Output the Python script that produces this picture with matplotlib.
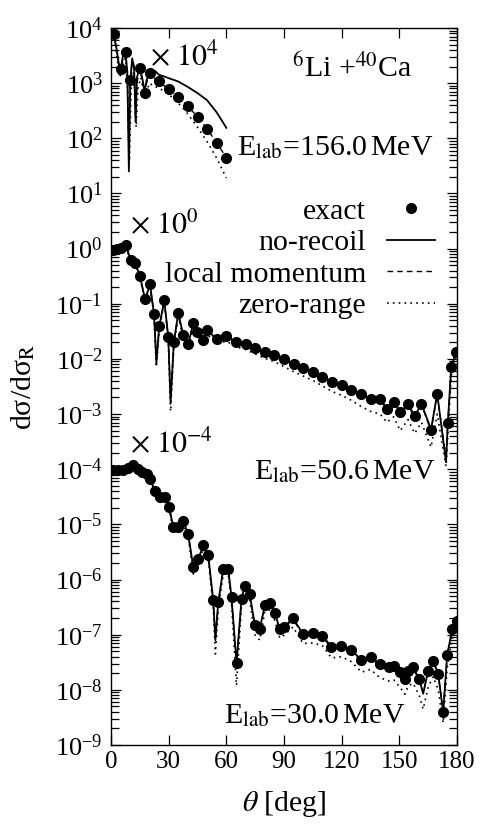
# %% load library
import numpy as np
import matplotlib
matplotlib.use("Agg")
import matplotlib.pyplot as plt
import matplotlib.ticker as ticker
from matplotlib.lines import Line2D

# %% style
plt.rcParams['font.family'] = ['Liberation Serif', 'DejaVu Serif']
plt.rcParams['mathtext.fontset'] = 'stix'
plt.rcParams['axes.linewidth'] = 1.0

# %% data  (theta [deg], log10 dsigma/dsigma_R)
# 156.0 MeV, drawn x 1e4
exact_156 = [(1.5, -0.10), (5.0, -0.75), (7.8, -0.43), (9.9, -0.94), (15.0, -0.73),
             (17.7, -1.18), (20.3, -0.82), (25, -0.97), (30, -1.11), (35, -1.25),
             (40, -1.42), (45, -1.61), (50, -1.83), (55, -2.08), (60, -2.35)]
norecoil_156 = [(0, -0.05), (1.5, -0.12), (3, -0.40), (4.5, -0.75), (5.5, -0.65),
                (6.5, -0.45), (7.5, -0.42), (8.5, -0.80), (9.3, -2.60), (10, -1.00),
                (11, -0.55), (12, -0.70), (12.8, -1.70), (13.5, -0.90), (15, -0.70),
                (16.5, -0.95), (17.5, -1.15), (18.5, -0.95), (20, -0.80), (21.5, -0.85),
                (23, -0.78), (25, -0.85), (27, -0.87), (30, -0.91), (35, -0.97),
                (40, -1.07), (45, -1.18), (50, -1.31), (55, -1.53), (60, -1.81)]
localmom_156 = [(0, -0.05), (1.5, -0.12), (3, -0.40), (4.5, -0.78), (5.5, -0.70),
                (6.5, -0.50), (7.5, -0.43), (8.5, -0.80), (9.3, -2.40), (10, -1.00),
                (11, -0.60), (12, -0.75), (12.8, -1.70), (13.5, -1.00), (15, -0.73),
                (16.5, -1.00), (17.5, -1.18), (18.5, -1.00), (20, -0.82), (21.5, -0.90),
                (23, -0.92), (25, -0.97), (27, -1.03), (30, -1.11), (35, -1.25),
                (40, -1.42), (45, -1.61), (50, -1.83), (55, -2.08), (60, -2.35)]
zerorange_156 = [(0, -0.10), (1.5, -0.20), (3, -0.50), (4.5, -0.90), (5.5, -0.80),
                 (6.5, -0.60), (7.5, -0.55), (8.5, -1.00), (9.6, -2.40), (10.5, -1.10),
                 (11.5, -0.80), (12.3, -1.00), (13.1, -1.80), (14, -1.10), (15.5, -0.90),
                 (17, -1.15), (18, -1.30), (19, -1.10), (20, -1.00), (22, -1.05),
                 (25, -1.09), (30, -1.20), (35, -1.36), (40, -1.56), (45, -1.80),
                 (50, -2.06), (55, -2.36), (60, -2.72)]

# 50.6 MeV, drawn x 1
exact_50 = [(1.2, -0.03), (2.9, 0.00), (5.0, 0.02), (7.8, 0.06), (10.2, -0.21),
            (12.5, -0.26), (15.1, -0.50), (17.7, -0.92), (20.3, -0.65), (22.4, -1.19),
            (25.1, -1.41), (27.7, -0.94), (29.8, -1.60), (32.7, -1.69), (35, -1.17),
            (37.6, -1.57), (40.2, -1.73), (42.8, -1.35), (44.9, -1.51), (47.7, -1.66),
            (50.1, -1.48), (55, -1.64), (60, -1.59), (65, -1.69), (70, -1.73),
            (75, -1.80), (80, -1.87), (85, -1.93), (90, -2.01), (95, -2.10),
            (100, -2.17), (105, -2.24), (110, -2.33), (115, -2.42), (120, -2.48),
            (125, -2.56), (130, -2.63), (135, -2.72), (140, -2.72), (143.5, -2.90),
            (147, -2.78), (150.5, -2.96), (154.5, -2.82), (158, -3.04), (161.5, -2.81),
            (166.5, -3.28), (169.7, -2.63), (175.2, -3.17), (177, -2.15), (179.5, -1.87)]
norecoil_50 = [(0, -0.03), (1.2, -0.03), (2.9, 0.00), (5.0, 0.02), (7.8, 0.06),
               (10.2, -0.21), (12.5, -0.26), (15.1, -0.50), (17.7, -0.92), (20.3, -0.65),
               (22.4, -1.19), (23.6, -2.08), (25.1, -1.41), (27.7, -0.94), (29.8, -1.60),
               (31.0, -2.80), (32.7, -1.69), (35, -1.17), (37.6, -1.57), (40.2, -1.73),
               (42.8, -1.35), (44.9, -1.51), (47.7, -1.66), (50.1, -1.48), (55, -1.64),
               (60, -1.59), (65, -1.69), (70, -1.73), (75, -1.80), (80, -1.87),
               (85, -1.93), (90, -2.01), (95, -2.10), (100, -2.17), (105, -2.24),
               (110, -2.33), (115, -2.42), (120, -2.48), (125, -2.56), (130, -2.63),
               (135, -2.72), (140, -2.72), (143.5, -2.90), (147, -2.78), (150.5, -2.96),
               (154.5, -2.82), (158, -3.04), (161.5, -2.81), (166.5, -3.28), (169.7, -2.63),
               (174.3, -3.87), (175.2, -3.17), (177, -2.15), (179.5, -1.87), (180, -1.82)]
localmom_50 = [(0, -0.03), (1.2, -0.03), (2.9, 0.00), (5.0, 0.02), (7.8, 0.06),
               (10.2, -0.21), (12.5, -0.27), (15.1, -0.51), (17.7, -0.93), (20.3, -0.66),
               (22.4, -1.20), (23.6, -2.00), (25.1, -1.42), (27.7, -0.95), (29.8, -1.61),
               (31.0, -2.70), (32.7, -1.70), (35, -1.18), (37.6, -1.58), (40.2, -1.74),
               (42.8, -1.36), (44.9, -1.52), (47.7, -1.67), (50.1, -1.49), (55, -1.65),
               (60, -1.60), (65, -1.70), (70, -1.74), (75, -1.81), (80, -1.88),
               (85, -1.94), (90, -2.02), (95, -2.11), (100, -2.18), (105, -2.25),
               (110, -2.34), (115, -2.43), (120, -2.49), (125, -2.57), (130, -2.64),
               (135, -2.73), (140, -2.74), (143.5, -2.92), (147, -2.80), (150.5, -2.98),
               (154.5, -2.84), (158, -3.06), (161.5, -2.83), (166.5, -3.30), (169.7, -2.65),
               (174.3, -3.80), (175.2, -3.19), (177, -2.17), (179.5, -1.88), (180, -1.83)]
zerorange_50 = [(0, -0.04), (1.2, -0.04), (2.9, -0.01), (5.0, 0.01), (7.8, 0.05),
                (10.2, -0.23), (12.5, -0.28), (15.1, -0.53), (17.7, -0.95), (20.3, -0.68),
                (22.4, -1.23), (23.6, -2.15), (25.1, -1.45), (27.7, -0.98), (29.8, -1.66),
                (31.0, -2.95), (32.7, -1.76), (35, -1.22), (37.6, -1.63), (40.2, -1.80),
                (42.8, -1.42), (44.9, -1.58), (47.7, -1.74), (50.1, -1.56), (55, -1.72),
                (60, -1.68), (65, -1.78), (70, -1.83), (75, -1.91), (80, -1.99),
                (85, -2.05), (90, -2.14), (95, -2.23), (100, -2.31), (105, -2.39),
                (110, -2.49), (115, -2.59), (120, -2.66), (125, -2.75), (130, -2.86),
                (135, -2.95), (140, -3.00), (143.5, -3.15), (147, -3.05), (150.5, -3.30),
                (154.5, -3.10), (158, -3.35), (161.5, -3.15), (166.5, -3.60), (169.7, -3.00),
                (174.3, -3.95), (175.2, -3.40), (177, -2.30), (179.5, -1.92), (180, -1.86)]

# 30.0 MeV, drawn x 1e-4
exact_30 = [(1.2, -0.02), (3.8, -0.02), (6.4, -0.01), (9, 0.03), (11.6, 0.07),
            (14.2, 0.01), (15.9, -0.05), (18.5, -0.09), (20.3, -0.17), (22.9, -0.40),
            (25.5, -0.51), (28.1, -0.51), (30.3, -0.69), (32.4, -1.05), (35, -1.05),
            (37.6, -0.94), (40.2, -1.18), (42.8, -1.78), (45.4, -1.63), (48, -1.38),
            (50.6, -1.56), (53.2, -2.38), (55.8, -2.41), (58.4, -1.81), (61, -1.81),
            (62.7, -2.32), (65.3, -3.52), (67.9, -2.35), (69.6, -2.11), (72.2, -2.27),
            (74.8, -2.82), (77.4, -2.89), (80, -2.47), (82.6, -2.43), (85.2, -2.60),
            (87.8, -2.90), (90, -2.86), (94.7, -2.70), (99.9, -2.99), (105.2, -2.97),
            (110, -3.02), (114.7, -3.22), (119.9, -3.20), (125.1, -3.28), (130.3, -3.46),
            (135, -3.40), (139.9, -3.54), (144.7, -3.59), (147.1, -3.56), (150.3, -3.68),
            (152.9, -3.80), (154.6, -3.65), (157.2, -3.59), (160.3, -3.80), (165, -3.65),
            (167.6, -3.47), (170.2, -3.71), (172.8, -4.41), (174.9, -3.36), (177.6, -2.90),
            (180, -2.76)]
norecoil_30 = [(0, -0.02), (1.2, -0.02), (3.8, -0.02), (6.4, -0.01), (9, 0.03),
               (11.6, 0.07), (14.2, 0.01), (15.9, -0.05), (18.5, -0.09), (20.3, -0.17),
               (22.9, -0.40), (25.5, -0.51), (28.1, -0.51), (30.3, -0.69), (32.4, -1.05),
               (35, -1.05), (37.6, -0.94), (40.2, -1.18), (42.8, -1.78), (45.4, -1.63),
               (48, -1.38), (50.6, -1.56), (53.2, -2.38), (54.3, -3.10), (55.8, -2.41),
               (58.4, -1.81), (61, -1.81), (62.7, -2.32), (65.3, -3.52), (67.9, -2.35),
               (69.6, -2.11), (72.2, -2.27), (74.8, -2.82), (77.4, -2.89), (80, -2.47),
               (82.6, -2.43), (85.2, -2.60), (87.8, -2.90), (90, -2.86), (94.7, -2.70),
               (99.9, -2.99), (105.2, -2.97), (110, -3.02), (114.7, -3.22), (119.9, -3.20),
               (125.1, -3.28), (130.3, -3.46), (135, -3.40), (139.9, -3.54), (144.7, -3.59),
               (147.1, -3.56), (150.3, -3.68), (152.9, -3.80), (154.6, -3.65), (157.2, -3.59),
               (160.3, -3.80), (162.4, -4.07), (165, -3.65), (167.6, -3.47), (170.2, -3.71),
               (172.8, -4.41), (174.9, -3.36), (177.6, -2.90), (180, -2.76)]
localmom_30 = [(0, -0.02), (1.2, -0.02), (3.8, -0.02), (6.4, -0.01), (9, 0.03),
               (11.6, 0.07), (14.2, 0.01), (15.9, -0.05), (18.5, -0.10), (20.3, -0.18),
               (22.9, -0.41), (25.5, -0.52), (28.1, -0.52), (30.3, -0.70), (32.4, -1.06),
               (35, -1.06), (37.6, -0.95), (40.2, -1.19), (42.8, -1.80), (45.4, -1.64),
               (48, -1.39), (50.6, -1.57), (53.2, -2.40), (54.3, -3.05), (55.8, -2.43),
               (58.4, -1.82), (61, -1.82), (62.7, -2.34), (65.3, -3.50), (67.9, -2.37),
               (69.6, -2.12), (72.2, -2.28), (74.8, -2.84), (77.4, -2.91), (80, -2.48),
               (82.6, -2.44), (85.2, -2.62), (87.8, -2.92), (90, -2.88), (94.7, -2.72),
               (99.9, -3.01), (105.2, -2.99), (110, -3.04), (114.7, -3.24), (119.9, -3.22),
               (125.1, -3.30), (130.3, -3.48), (135, -3.42), (139.9, -3.56), (144.7, -3.61),
               (147.1, -3.58), (150.3, -3.70), (152.9, -3.82), (154.6, -3.67), (157.2, -3.61),
               (160.3, -3.82), (162.4, -4.05), (165, -3.67), (167.6, -3.49), (170.2, -3.73),
               (172.8, -4.35), (174.9, -3.38), (177.6, -2.91), (180, -2.77)]
zerorange_30 = [(0, -0.03), (1.2, -0.03), (3.8, -0.03), (6.4, -0.02), (9, 0.02),
                (11.6, 0.05), (14.2, -0.01), (15.9, -0.07), (18.5, -0.11), (20.3, -0.19),
                (22.9, -0.43), (25.5, -0.55), (28.1, -0.54), (30.3, -0.74), (32.4, -1.12),
                (35, -1.10), (37.6, -0.99), (40.2, -1.25), (42.8, -1.90), (45.4, -1.70),
                (48, -1.44), (50.6, -1.63), (53.2, -2.50), (54.3, -3.35), (55.8, -2.55),
                (58.4, -1.90), (61, -1.90), (62.7, -2.45), (65.3, -3.92), (67.9, -2.46),
                (69.6, -2.20), (72.2, -2.38), (74.8, -3.00), (77.4, -3.10), (80, -2.58),
                (82.6, -2.55), (85.2, -2.74), (87.8, -3.06), (90, -3.01), (94.7, -2.86),
                (99.9, -3.16), (105.2, -3.15), (110, -3.20), (114.7, -3.42), (119.9, -3.40),
                (125.1, -3.49), (130.3, -3.68), (135, -3.63), (139.9, -3.78), (144.7, -3.84),
                (147.1, -3.82), (150.3, -3.95), (152.9, -4.08), (154.6, -3.93), (157.2, -3.88),
                (160.3, -4.10), (162.4, -4.35), (165, -3.95), (167.6, -3.76), (170.2, -4.00),
                (172.8, -4.60), (174.9, -3.60), (177.6, -3.05), (180, -2.85)]

energies = ["156.0", "50.6", "30.0"]
scale_exp = [4, 0, -4]
legend_labels = ["exact", "no-recoil", "local momentum", "zero-range"]

# %% plotting
FS_TICK = 18
FS_TEXT = 21.5

fig = plt.figure(figsize=(4.81, 8.24), dpi=100)
ax = fig.add_axes([111 / 481, 1 - 745 / 824, 346 / 481, 717 / 824])

sets = [
    (exact_156, norecoil_156, localmom_156, zerorange_156),
    (exact_50, norecoil_50, localmom_50, zerorange_50),
    (exact_30, norecoil_30, localmom_30, zerorange_30),
]


def xy(pairs, s):
    a = np.array(pairs, dtype=float)
    return a[:, 0], 10.0 ** (a[:, 1] + s)


for (ex, nr, lm, zr), s in zip(sets, scale_exp):
    ax.plot(*xy(zr, s), color='k', lw=1.2, ls=(0, (1, 2.5)))
    ax.plot(*xy(lm, s), color='k', lw=1.0, ls=(0, (4, 3)))
    ax.plot(*xy(nr, s), color='k', lw=1.3)
    ax.plot(*xy(ex, s), ls='none', marker='o', ms=7, color='k')

ax.set_yscale('log')
ax.set_xlim(0, 180)
ax.set_ylim(1e-9, 1e4)
ax.set_xticks(np.arange(0, 181, 30))
ax.yaxis.set_major_locator(ticker.LogLocator(base=10, numticks=30))
ax.yaxis.set_minor_locator(ticker.LogLocator(base=10, subs=np.arange(2, 10), numticks=30))
ax.yaxis.set_minor_formatter(ticker.NullFormatter())
ax.xaxis.set_minor_locator(ticker.NullLocator())

ax.tick_params(which='both', direction='in', top=True, right=True, width=0.9)
ax.tick_params(which='major', length=7.5)
ax.tick_params(which='minor', length=6)
ax.tick_params(axis='x', labelsize=FS_TICK, pad=4)
ax.tick_params(axis='y', labelsize=19, pad=6)

ax.set_xlabel(r'$\theta$ [deg]', fontsize=FS_TEXT)
ax.xaxis.set_label_coords(0.5, -0.062)
ax.set_ylabel(r'dσ/dσ$_{\rm R}$', fontsize=FS_TEXT)
ax.yaxis.set_label_coords(-0.215, 0.5)

# scale factors
ax.text(20.3, 10 ** 3.31, r'$\times\ 10^{4}$', fontsize=FS_TEXT, va='baseline')
ax.text(9.9, 10 ** 0.28, r'$\times\ 10^{0}$', fontsize=FS_TEXT, va='baseline')
ax.text(9.9, 10 ** -3.71, r'$\times\ 10^{-4}$', fontsize=FS_TEXT, va='baseline')

# energies and reaction
ax.text(157.1, 10 ** 3.09, r'$^{6}$Li +$^{40}$Ca', fontsize=FS_TEXT, ha='right', va='baseline')
e_pos = [(167.5, 10 ** 1.695), (168.6, 10 ** -4.17), (153.0, 10 ** -8.6)]
for e, (xp, yp) in zip(energies, e_pos):
    ax.text(xp, yp, r'E$_{\rm lab}$=' + e + r'$\,$MeV', fontsize=FS_TEXT,
            ha='right', va='baseline')

handles = [
    Line2D([], [], ls='none', marker='o', ms=7, color='k'),
    Line2D([], [], color='k', lw=1.3),
    Line2D([], [], color='k', lw=1.0, ls=(0, (4, 3))),
    Line2D([], [], color='k', lw=1.2, ls=(0, (1, 2.5))),
]
ax.legend(handles, legend_labels, loc='upper right', bbox_to_anchor=(0.936, 0.763),
          frameon=False, markerfirst=False, fontsize=FS_TEXT, handlelength=1.6,
          handletextpad=0.7, labelspacing=0.15, borderpad=0, borderaxespad=0)

fig.savefig('out.png', dpi=100)
